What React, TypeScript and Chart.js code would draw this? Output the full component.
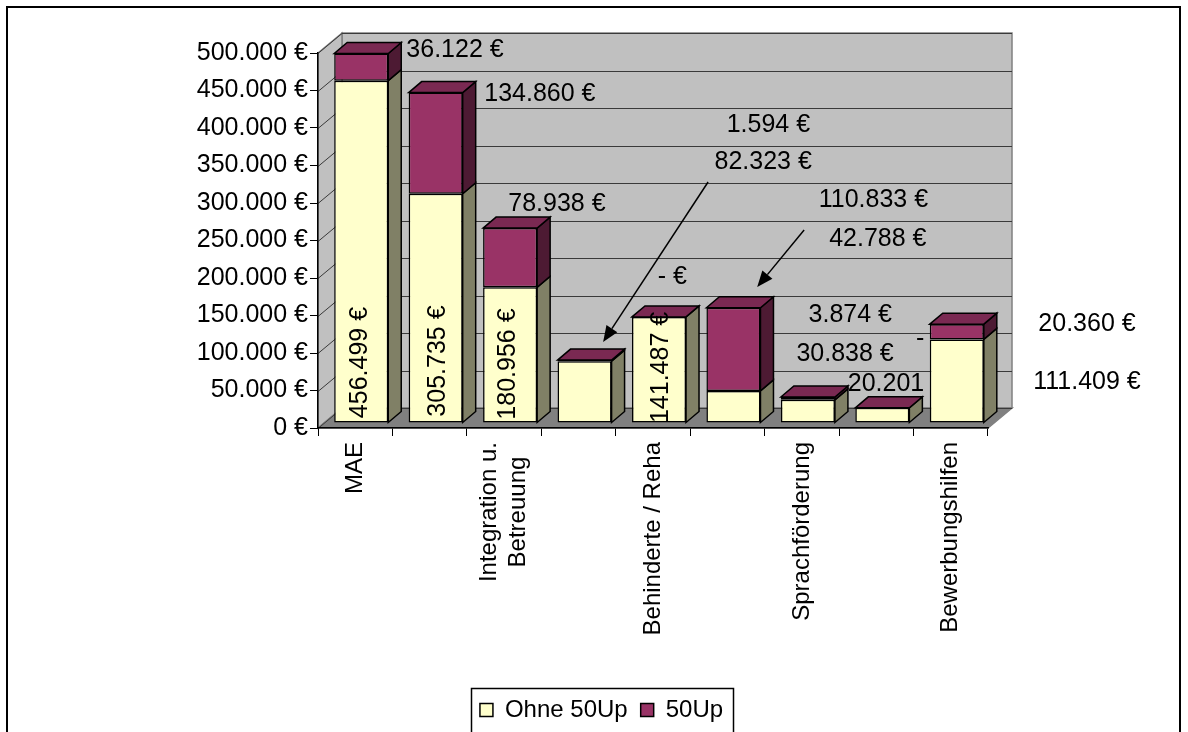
import React, { useEffect, useRef } from 'react';
import { Chart, registerables } from 'chart.js';

Chart.register(...registerables);

// ---------- data ----------
const categories: (string | string[])[] = [
  'MAE', '', ['Integration u.', 'Betreuung'], '', 'Behinderte / Reha', '', 'Sprachförderung', '', 'Bewerbungshilfen',
];
const seriesNames = ['Ohne 50Up', '50Up'];
const ohne50Up = [456499, 305735, 180956, 82323, 141487, 42788, 30838, 20201, 111409];
const mit50Up = [36122, 134860, 78938, 1594, 0, 110833, 3874, 0, 20360];
const yMin = 0;
const yMax = 500000;
const yStep = 50000;

// data-label anchors: [slot (in category widths from the left edge), value level, rotation in degrees]
const ohneLabelAt = [
  [0.564, 87300, 90], [1.61, 89300, 90], [2.55, 85300, 90], [5.98, 355100, 0], [4.61, 80700, 90],
  [7.52, 252000, 0], [7.08, 98700, 0], [7.63, 58700, 0], [10.33, 61300, 0],
];
const mit50UpLabelAt = [
  [1.84, 503300, 0], [2.98, 445300, 0], [3.21, 298700, 0], [6.05, 404000, 0], [4.76, 201700, 0],
  [7.46, 303300, 0], [7.15, 150700, 0], [8.09, 118700, 0], [10.33, 139100, 0],
];
// labels that appear cut off (no € sign) in the original
const ohneNoEuro = [7];
const mitNoEuro = [7];
// leader arrows: [fromSlot, fromValue, toSlot, toValue]
const leaderArrows = [
  [5.24, 328000, 3.83, 114700],
  [6.53, 264000, 5.9, 188000],
];

// ---------- style ----------
const FONT = '"Liberation Sans", Arial, Helvetica, sans-serif';
const FRONT = ['#FFFFCC', '#993366'];
const SIDE = ['#808066', '#4D1A33'];
const TOP = ['#BFBF99', '#7A2952'];
const WALL = { x: 24, y: -20 };
const BAR_SHIFT = { x: 6, y: -5 };
const BAR_DEPTH = { x: 13, y: -11 };

const fmt = (v: number, euro = true) =>
  (v === 0 ? '-' : String(Math.round(v)).replace(/\B(?=(\d{3})+(?!\d))/g, '.')) + (euro ? ' €' : '');
const fmtTick = (v: number) => String(Math.round(v)).replace(/\B(?=(\d{3})+(?!\d))/g, '.') + ' €';

function poly(ctx: CanvasRenderingContext2D, pts: number[][], fill?: string, stroke?: string, lw = 1.5) {
  ctx.beginPath();
  pts.forEach((p, i) => (i ? ctx.lineTo(p[0], p[1]) : ctx.moveTo(p[0], p[1])));
  ctx.closePath();
  if (fill) {
    ctx.fillStyle = fill;
    ctx.fill();
  }
  if (stroke) {
    ctx.strokeStyle = stroke;
    ctx.lineWidth = lw;
    ctx.lineJoin = 'miter';
    ctx.stroke();
  }
}

const threeD = {
  id: 'threeD',
  beforeDraw(chart: any) {
    const { ctx, chartArea: ca, scales } = chart;
    const ys = scales.y;
    const L = ca.left, R = ca.right;
    const T = ys.getPixelForValue(yMax), B = ys.getPixelForValue(yMin);
    const dx = WALL.x, dy = WALL.y;
    ctx.save();
    poly(ctx, [[L + dx, T + dy], [R + dx, T + dy], [R + dx, B + dy], [L + dx, B + dy]], '#C0C0C0', '#808080');
    poly(ctx, [[L, T], [L + dx, T + dy], [L + dx, B + dy], [L, B]], '#C0C0C0', '#808080');
    poly(ctx, [[L, B], [L + dx, B + dy], [R + dx, B + dy], [R, B]], '#808080', '#808080');
    ctx.strokeStyle = '#3a3a3a';
    ctx.lineWidth = 1;
    ys.ticks.forEach((t: any) => {
      const py = Math.round(ys.getPixelForValue(t.value)) + 0.5;
      ctx.beginPath();
      ctx.moveTo(L, py);
      ctx.lineTo(L + dx, py + dy);
      ctx.lineTo(R + dx, py + dy);
      ctx.stroke();
    });
    ctx.restore();
  },
  beforeDatasetsDraw(chart: any) {
    chart.ctx.save();
    chart.ctx.translate(BAR_SHIFT.x, BAR_SHIFT.y);
  },
  afterDatasetsDraw(chart: any) {
    const ctx = chart.ctx;
    const n = categories.length;
    const dx = BAR_DEPTH.x, dy = BAR_DEPTH.y;
    for (let i = 0; i < n; i++) {
      let topEl: any = null;
      [0, 1].forEach((d) => {
        const el = chart.getDatasetMeta(d).data[i];
        if (!el) return;
        const p = el.getProps(['x', 'y', 'base', 'width'], true);
        const l = p.x - p.width / 2, r = p.x + p.width / 2;
        const top = Math.min(p.y, p.base), bot = Math.max(p.y, p.base);
        if (bot - top > 0.1) {
          poly(ctx, [[r, top], [r + dx, top + dy], [r + dx, bot + dy], [r, bot]], SIDE[d], '#000');
        }
        topEl = { l, r, top };
      });
      if (topEl) {
        const { l, r, top } = topEl;
        poly(ctx, [[l, top], [l + dx, top + dy], [r + dx, top + dy], [r, top]], TOP[1], '#000');
      }
    }
    ctx.restore();
  },
  afterDraw(chart: any) {
    const { ctx, scales } = chart;
    const xs = scales.x, ys = scales.y;
    const slotW = xs.width / categories.length;
    const sx = (s: number) => xs.left + s * slotW;
    const sy = (v: number) => ys.getPixelForValue(v);
    ctx.save();
    ctx.fillStyle = '#000';

    // category labels (rotated, lines centred on each other)
    ctx.font = `24px ${FONT}`;
    ctx.textBaseline = 'middle';
    ctx.textAlign = 'center';
    const lh = 28.8;
    categories.forEach((c, i) => {
      const lines = Array.isArray(c) ? c : [c];
      if (!lines.join('')) return;
      const px = xs.getPixelForValue(i);
      const maxW = Math.max(...lines.map((t) => ctx.measureText(t).width));
      const cy = xs.top + 14 + maxW / 2;
      lines.forEach((t, j) => {
        ctx.save();
        ctx.translate(px + (j - (lines.length - 1) / 2) * lh, cy);
        ctx.rotate(-Math.PI / 2);
        ctx.fillText(t, 0, 0);
        ctx.restore();
      });
    });

    // data labels
    ctx.font = `25px ${FONT}`;
    const drawLabels = (vals: number[], spots: number[][], noEuro: number[]) => {
      vals.forEach((v, i) => {
        const [s, lv, rot] = spots[i];
        const text = fmt(v, !noEuro.includes(i));
        ctx.save();
        ctx.translate(sx(s), sy(lv));
        if (rot) ctx.rotate((-rot * Math.PI) / 180);
        ctx.fillText(text, 0, 0);
        ctx.restore();
      });
    };
    drawLabels(ohne50Up, ohneLabelAt, ohneNoEuro);
    drawLabels(mit50Up, mit50UpLabelAt, mitNoEuro);

    // leader arrows
    ctx.strokeStyle = '#000';
    ctx.lineWidth = 1.5;
    leaderArrows.forEach(([s1, v1, s2, v2]) => {
      const x1 = sx(s1), y1 = sy(v1), x2 = sx(s2), y2 = sy(v2);
      const a = Math.atan2(y2 - y1, x2 - x1);
      const hl = 16, hw = 6.5;
      const bx = x2 - hl * Math.cos(a), by = y2 - hl * Math.sin(a);
      ctx.beginPath();
      ctx.moveTo(x1, y1);
      ctx.lineTo(bx, by);
      ctx.stroke();
      ctx.beginPath();
      ctx.moveTo(x2, y2);
      ctx.lineTo(bx + hw * Math.sin(a), by - hw * Math.cos(a));
      ctx.lineTo(bx - hw * Math.sin(a), by + hw * Math.cos(a));
      ctx.closePath();
      ctx.fill();
    });

    // legend frame
    const lg = chart.legend;
    if (lg && lg.legendHitBoxes && lg.legendHitBoxes.length) {
      const hb = lg.legendHitBoxes;
      const first = hb[0], last = hb[hb.length - 1];
      const left = first.left - 9, right = last.left + last.width + 10;
      const midY = first.top + first.height / 2;
      ctx.strokeStyle = '#000';
      ctx.lineWidth = 1.5;
      ctx.strokeRect(Math.round(left) + 0.5, Math.round(midY - 22) + 0.5, Math.round(right - left), 80);
    }

    // outer chart border
    ctx.strokeStyle = '#000';
    ctx.lineWidth = 2;
    ctx.strokeRect(7, 7, 1173, 800);
    ctx.restore();
  },
};

export default function App() {
  const ref = useRef<HTMLCanvasElement | null>(null);
  useEffect(() => {
    if (!ref.current) return;
    Chart.defaults.font.family = FONT;
    Chart.defaults.color = '#000';
    const chart = new Chart(ref.current, {
      type: 'bar',
      data: {
        labels: categories as any,
        datasets: [
          {
            label: seriesNames[0],
            data: ohne50Up,
            backgroundColor: FRONT[0],
            borderColor: '#000',
            borderWidth: 1.5,
            borderSkipped: false,
            categoryPercentage: 1,
            barPercentage: 0.726,
          },
          {
            label: seriesNames[1],
            data: mit50Up,
            backgroundColor: FRONT[1],
            borderColor: '#000',
            borderWidth: 1.5,
            borderSkipped: false,
            categoryPercentage: 1,
            barPercentage: 0.726,
          },
        ],
      },
      options: {
        responsive: false,
        animation: false,
        devicePixelRatio: 1,
        events: [],
        layout: { padding: { left: 15, top: 53, right: 0, bottom: 0 } },
        plugins: {
          tooltip: { enabled: false },
          legend: {
            position: 'bottom',
            labels: {
              boxWidth: 13,
              boxHeight: 13,
              padding: 13,
              color: '#000',
              font: { size: 24, family: FONT },
            },
          },
        },
        scales: {
          x: {
            type: 'category',
            stacked: true,
            offset: true,
            grid: { display: true, drawOnChartArea: false, drawTicks: true, tickLength: 8, color: '#000', lineWidth: 1, offset: true },
            border: { display: true, color: '#000', width: 1.5 },
            ticks: { display: false },
            afterFit: (s: any) => {
              const lgH = s.chart.legend ? s.chart.legend.height : 47;
              s.height = 732 - 428 - lgH;
            },
          },
          y: {
            type: 'linear',
            stacked: true,
            position: 'left',
            min: yMin,
            max: yMax,
            grid: { display: true, drawOnChartArea: false, drawTicks: true, tickLength: 8, color: '#000', lineWidth: 1 },
            border: { display: true, color: '#000', width: 1.5 },
            ticks: {
              stepSize: yStep,
              padding: 2,
              color: '#000',
              font: { size: 25, family: FONT },
              callback: (v: any) => fmtTick(Number(v)),
            },
            afterFit: (s: any) => {
              s.width = 303;
            },
          },
          yR: {
            type: 'linear',
            position: 'right',
            display: true,
            grid: { display: false },
            border: { display: false },
            ticks: { display: false },
            afterFit: (s: any) => {
              s.width = 200;
            },
          },
        },
      },
      plugins: [threeD],
    } as any);
    return () => chart.destroy();
  }, []);
  return (
    <div style={{ position: 'absolute', left: 0, top: 0, width: 1188, height: 732, overflow: 'hidden', background: '#fff' }}>
      <canvas ref={ref} width={1188} height={732} style={{ display: 'block' }} />
    </div>
  );
}
